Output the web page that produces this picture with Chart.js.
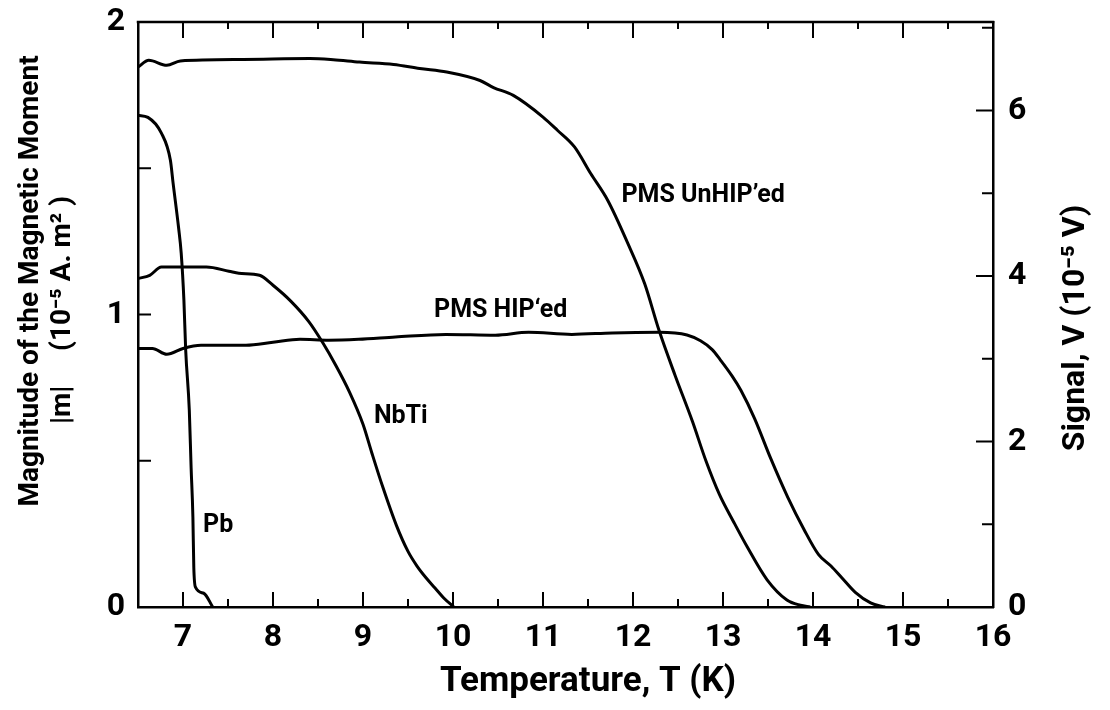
<!DOCTYPE html>
<html>
<head>
<meta charset="utf-8">
<script src="https://cdn.jsdelivr.net/npm/chart.js@4.4.1/dist/chart.umd.min.js"></script>
<style>
html, body { margin: 0; padding: 0; background: #fff; }
#wrap { width: 1110px; height: 710px; }
</style>
</head>
<body>
<div id="wrap"><canvas id="momentChart" width="1110" height="710"></canvas></div>
<script>
// Curves: temperature T (K) and |m| (10^-5 A.m^2)
const pbT = [6.5, 6.61, 6.76, 6.86, 6.89, 6.95, 6.98, 7.01, 7.03, 7.07, 7.09, 7.11, 7.12, 7.14, 7.23, 7.33];
const pbM = [1.681, 1.674, 1.62, 1.527, 1.449, 1.299, 1.21, 1.049, 0.878, 0.673, 0.478, 0.307, 0.136, 0.067, 0.047, 0];

const nbtiT = [6.5, 6.63, 6.76, 7.26, 7.51, 7.62, 7.85, 8.0, 8.2, 8.4, 8.55, 8.7, 8.85, 9.0, 9.1, 9.22, 9.37, 9.5, 9.6, 9.7, 9.8, 9.9, 10.01];
const nbtiM = [1.123, 1.134, 1.162, 1.162, 1.148, 1.141, 1.134, 1.1, 1.045, 0.975, 0.905, 0.825, 0.735, 0.625, 0.525, 0.41, 0.28, 0.19, 0.14, 0.1, 0.065, 0.03, 0];

const hipT = [6.5, 6.66, 6.82, 7.0, 7.2, 7.7, 8.0, 8.3, 8.62, 8.95, 9.36, 9.92, 10.47, 10.84, 11.32, 11.77, 12.29, 12.6, 12.75, 12.88, 12.97, 13.1, 13.2, 13.35, 13.53, 13.72, 13.9, 14.06, 14.2, 14.32, 14.47, 14.64, 14.8];
const hipM = [0.884, 0.884, 0.864, 0.884, 0.895, 0.895, 0.905, 0.915, 0.912, 0.915, 0.923, 0.932, 0.929, 0.939, 0.932, 0.937, 0.939, 0.93, 0.91, 0.88, 0.845, 0.79, 0.74, 0.645, 0.508, 0.375, 0.265, 0.18, 0.14, 0.1, 0.05, 0.014, 0];

const unhipT = [6.5, 6.62, 6.82, 6.97, 7.67, 8.41, 8.67, 8.96, 9.34, 9.63, 9.93, 10.3, 10.45, 10.67, 11.0, 11.16, 11.35, 11.53, 11.72, 11.94, 12.13, 12.29, 12.47, 12.66, 12.81, 12.96, 13.12, 13.27, 13.49, 13.71, 13.86, 13.97];
const unhipM = [1.846, 1.869, 1.852, 1.867, 1.872, 1.875, 1.871, 1.863, 1.855, 1.841, 1.829, 1.8, 1.776, 1.749, 1.675, 1.63, 1.573, 1.482, 1.39, 1.245, 1.105, 0.945, 0.79, 0.635, 0.5, 0.385, 0.29, 0.205, 0.093, 0.024, 0.006, 0];

// Curve labels, placed in data units
const curveNames = ['PMS UnHIP\u2019ed', 'PMS HIP\u2018ed', 'NbTi', 'Pb'];
const curveNameT = [12.78, 10.53, 9.42, 7.39];
const curveNameM = [1.407, 1.014, 0.651, 0.279];

// Axes
const tMin = 6.5, tMax = 16;
const xLabels = [7, 8, 9, 10, 11, 12, 13, 14, 15, 16];
const xMinorTicks = [7.5, 8.5, 9.5, 10.5, 11.5, 12.5, 13.5, 14.5, 15.5];
const leftLabels = [0, 1, 2];
const leftTicks = [0.5, 1, 1.5];
const rightMax = 7.07;
const rightTicks = [1, 2, 3, 4, 5, 6, 7];
const rightLabels = [0, 2, 4, 6];

const xTitle = 'Temperature, T (K)';
const leftTitle = ['Magnitude of the Magnetic Moment', '|m|     (10\u207B\u2075 A. m\u00B2 )'];
const rightTitle = 'Signal, V (10\u207B\u2075 V)';

const FONT = "Roboto, 'DejaVu Sans', sans-serif";

function toPoints(xs, ys) {
    return xs.map((x, i) => ({ x: x, y: ys[i] }));
}

function curve(xs, ys) {
    return {
        data: toPoints(xs, ys),
        borderColor: '#000',
        borderWidth: 3,
        pointRadius: 0,
        fill: false,
        cubicInterpolationMode: 'monotone',
        yAxisID: 'y'
    };
}

// keep the plot frame where the figure has it
function noPad(s) {
    s.paddingTop = 0;
    s.paddingBottom = 0;
    s.paddingLeft = 0;
    s.paddingRight = 0;
}

function upText(ctx, text, cx, cy) {
    ctx.save();
    ctx.translate(cx, cy);
    ctx.rotate(-Math.PI / 2);
    ctx.fillText(text, 0, 0);
    ctx.restore();
}

// Inward tick marks, top border, curve names and axis titles
const framePlugin = {
    id: 'frame',
    afterDraw(chart) {
        const ctx = chart.ctx;
        const a = chart.chartArea;
        const x = chart.scales.x, y = chart.scales.y, y2 = chart.scales.y2;
        ctx.save();
        ctx.strokeStyle = '#000';
        ctx.lineWidth = 2.5;
        ctx.lineCap = 'square';
        ctx.beginPath();
        ctx.moveTo(a.left, a.top);
        ctx.lineTo(a.right, a.top);
        ctx.stroke();

        ctx.lineWidth = 2;
        ctx.lineCap = 'butt';
        ctx.beginPath();
        xLabels.forEach(v => {
            const px = x.getPixelForValue(v);
            ctx.moveTo(px, a.bottom); ctx.lineTo(px, a.bottom - 15);
            ctx.moveTo(px, a.top); ctx.lineTo(px, a.top + 16);
        });
        xMinorTicks.forEach(v => {
            const px = x.getPixelForValue(v);
            ctx.moveTo(px, a.bottom); ctx.lineTo(px, a.bottom - 8);
            ctx.moveTo(px, a.top); ctx.lineTo(px, a.top + 7);
        });
        leftTicks.forEach(v => {
            const py = y.getPixelForValue(v);
            ctx.moveTo(a.left, py); ctx.lineTo(a.left + 13, py);
        });
        rightTicks.forEach(v => {
            const py = y2.getPixelForValue(v);
            const len = rightLabels.includes(v) ? 17 : 11;
            ctx.moveTo(a.right, py); ctx.lineTo(a.right - len, py);
        });
        ctx.stroke();

        ctx.fillStyle = '#000';
        ctx.textAlign = 'center';
        ctx.textBaseline = 'middle';
        ctx.font = 'bold 25px ' + FONT;
        curveNames.forEach((name, i) => {
            ctx.fillText(name, x.getPixelForValue(curveNameT[i]), y.getPixelForValue(curveNameM[i]));
        });

        ctx.font = 'bold 35px ' + FONT;
        ctx.fillText(xTitle, 588, 682);

        ctx.font = 'bold 28px ' + FONT;
        upText(ctx, leftTitle[0], 31, 281);
        upText(ctx, leftTitle[1], 63, 310);

        ctx.font = 'bold 32px ' + FONT;
        upText(ctx, rightTitle, 1076, 328);
        ctx.restore();
    }
};

const ctx1 = document.getElementById('momentChart').getContext('2d');
new Chart(ctx1, {
    type: 'line',
    data: {
        datasets: [
            curve(pbT, pbM),
            curve(nbtiT, nbtiM),
            curve(hipT, hipM),
            curve(unhipT, unhipM)
        ]
    },
    options: {
        responsive: false,
        animation: false,
        events: [],
        layout: { padding: { top: 22, left: 0, right: 0, bottom: 0 } },
        plugins: {
            legend: { display: false },
            tooltip: { enabled: false }
        },
        scales: {
            x: {
                type: 'linear',
                min: tMin,
                max: tMax,
                afterFit: s => { s.height = 103; noPad(s); },
                afterBuildTicks: s => { s.ticks = xLabels.map(v => ({ value: v })); },
                grid: { display: false, drawTicks: false },
                border: { display: true, color: '#000', width: 2.5 },
                ticks: { color: '#000', padding: 12, maxRotation: 0, font: { family: FONT, size: 32, weight: 'bold' } }
            },
            y: {
                position: 'left',
                min: 0,
                max: 2,
                afterFit: s => { s.width = 138; noPad(s); },
                afterBuildTicks: s => { s.ticks = leftLabels.map(v => ({ value: v })); },
                grid: { display: false, drawTicks: false },
                border: { display: true, color: '#000', width: 2.5 },
                ticks: { color: '#000', padding: 13, font: { family: FONT, size: 32, weight: 'bold' } }
            },
            y2: {
                position: 'right',
                min: 0,
                max: rightMax,
                afterFit: s => { s.width = 117; noPad(s); },
                afterBuildTicks: s => { s.ticks = rightLabels.map(v => ({ value: v })); },
                grid: { display: false, drawTicks: false },
                border: { display: true, color: '#000', width: 2.5 },
                ticks: { color: '#000', padding: 15, font: { family: FONT, size: 32, weight: 'bold' } }
            }
        }
    },
    plugins: [framePlugin]
});
</script>
</body>
</html>
